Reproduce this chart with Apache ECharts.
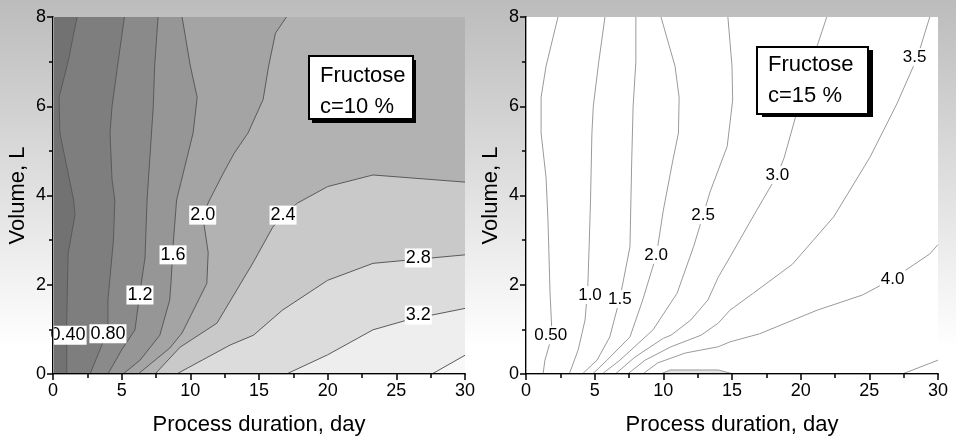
<!DOCTYPE html>
<html>
<head>
<meta charset="utf-8">
<script src="https://cdn.jsdelivr.net/npm/echarts@6/dist/echarts.min.js"></script>
<style>html,body{margin:0;padding:0;}#main{width:956px;height:446px;}</style>
</head>
<body>
<div id="main"></div>
<script>
// contour lines, points are [day, volume L]
// fructose c = 10 %  (filled contours)
var lines10 = {
  '0.40': [[1.75,8],[1.1,7.0],[0.44,6.2],[0.5,5.4],[1.5,3.9],[1.6,3.56],[1.1,2.7],[1.0,1.2],[1.0,0]],
  '0.80': [[5.2,8],[4.7,6.9],[4.3,6.0],[4.15,5.4],[4.3,4.35],[4.5,3.9],[4.4,3.0],[4.0,1.66],[4.0,0.98],[3.2,0.38],[2.7,0]],
  '1.2':  [[7.65,8],[7.4,6.9],[7.3,6.0],[6.85,3.9],[6.7,2.6],[6.3,1.77],[5.97,0.99],[5.0,0.54],[4.0,0]],
  '1.6':  [[9.4,8],[10.0,6.9],[10.5,6.2],[10.2,5.4],[9.0,3.9],[8.75,2.9],[8.6,2.08],[8.5,1.66],[7.78,0.87],[6.34,0.31],[5.1,0]],
  '2.0':  [[17.0,8],[16.2,7.64],[15.7,6.9],[15.3,6.15],[14.2,5.4],[13.2,4.95],[12.4,4.5],[11.4,3.9],[10.9,3.56],[11.3,2.72],[11.2,2.03],[9.4,0.92],[8.5,0.58],[6.2,0]],
  '2.4':  [[30,4.3],[23.3,4.46],[20.0,4.2],[17.8,3.83],[16.75,3.56],[16.0,3.29],[14.56,2.49],[11.94,1.14],[9.25,0.6],[7.43,0]],
  '2.8':  [[30,2.67],[23.3,2.48],[20.0,2.1],[16.7,1.43],[14.6,0.87],[12.9,0.65],[9.0,0]],
  '3.2':  [[30,1.47],[25.8,1.21],[23.3,0.99],[20.0,0.43],[17.0,0]],
  '3.6':  [[30,0.42],[27.6,0]]
};
var labels10 = [[1.1,0.87,'0.40'],[4.0,0.9,'0.80'],[6.33,1.77,'1.2'],[8.74,2.67,'1.6'],
  [10.9,3.56,'2.0'],[16.75,3.56,'2.4'],[26.6,2.6,'2.8'],[26.6,1.32,'3.2']];

// fructose c = 15 %  (contour lines only)
var lines15 = {
  '0.50': [[2.33,8],[1.46,6.9],[1.1,6.2],[1.1,5.4],[1.46,4.4],[1.6,3.45],[1.75,1.81],[1.9,0.87],[1.38,0.31],[1.24,0]],
  '1.0':  [[5.75,8],[5.3,7.0],[4.9,6.0],[4.8,5.4],[4.7,3.9],[4.6,2.9],[4.5,1.95],[4.3,1.21],[3.8,0.54],[3.15,0]],
  '1.5':  [[8.0,8],[8.0,7.0],[7.8,6.0],[7.7,4.8],[7.57,2.85],[6.84,1.7],[6.1,0.83],[5.17,0.31],[4.1,0]],
  '2.0':  [[9.83,8],[10.85,6.9],[11.15,6.2],[11.1,5.4],[10.7,4.8],[10.0,3.67],[9.5,2.67],[8.5,1.66],[7.57,0.83],[5.9,0.31],[4.85,0]],
  '2.5':  [[14.7,8],[15.0,6.9],[15.05,6.14],[14.65,5.1],[13.4,4.08],[12.9,3.56],[12.2,2.85],[11.0,1.81],[9.25,0.99],[6.84,0.31],[5.55,0]],
  '3.0':  [[21.9,8],[21.2,7.35],[19.7,5.84],[18.8,4.85],[18.3,4.46],[16.8,3.67],[14.85,2.62],[14.0,2.17],[13.25,1.66],[12.0,1.21],[10.56,0.87],[10.0,0.8],[7.94,0.38],[6.5,0]],
  '3.5':  [[29.4,8],[28.5,7.1],[27.0,6.05],[25.05,4.86],[22.4,3.52],[19.4,2.46],[16.5,1.8],[14.85,1.43],[14.0,1.14],[12.75,0.87],[10.56,0.61],[8.67,0.31],[7.4,0]],
  '4.0':  [[30,2.9],[29.4,2.69],[26.7,2.13],[24.5,1.77],[21.2,1.43],[17.0,0.9],[14.85,0.72],[14.0,0.61],[11.6,0.47],[9.6,0.25],[8.5,0]],
  '4.5':  [[27.4,0],[30,0.31]]
};
var lens15 = [[9.8,0],[10.5,0.09],[14.0,0.09],[15.1,0]];
var labels15 = [[1.8,0.87,'0.50'],[4.66,1.77,'1.0'],[6.84,1.68,'1.5'],[9.47,2.67,'2.0'],
  [12.9,3.56,'2.5'],[18.3,4.46,'3.0'],[28.3,7.1,'3.5'],[26.7,2.13,'4.0']];

var xMin = 0, xMax = 30, xStep = 5;
var yMin = 0, yMax = 8, yStep = 2;

var FONT = 'Liberation Sans, Arial, sans-serif';
// grey of each band above a level, darkest (below 0.40) is the plot background
var bandColors = ['#7e7e7e','#8a8a8a','#969696','#a4a4a4','#b2b2b2','#c9c9c9','#dcdcdc','#eeeeee','#f8f8f8'];

var chart = echarts.init(document.getElementById('main'));

function polySeries(ax, pts, fill, stroke) {
  return {
    type: 'custom', xAxisIndex: ax, yAxisIndex: ax, silent: true, z: 1,
    data: [[0, 0]],
    renderItem: function (params, api) {
      return {
        type: 'polygon',
        shape: { points: pts.map(function (p) { return api.coord(p); }) },
        style: { fill: fill, stroke: stroke || null, lineWidth: 1 }
      };
    }
  };
}
function lineSeries(ax, pts, color) {
  return {
    type: 'line', xAxisIndex: ax, yAxisIndex: ax, data: pts, silent: true, z: 2,
    showSymbol: false, animation: false,
    lineStyle: { color: color, width: 1 }
  };
}
function labelSeries(ax, list, size) {
  return {
    type: 'scatter', xAxisIndex: ax, yAxisIndex: ax, silent: true, z: 3,
    symbolSize: 1, itemStyle: { color: 'rgba(0,0,0,0)', opacity: 1 },
    data: list.map(function (l) { return { value: [l[0], l[1]], name: l[2] }; }),
    label: {
      show: true, position: 'inside', formatter: '{b}', color: '#000', opacity: 1,
      fontSize: size, fontFamily: FONT, backgroundColor: '#ffffff', padding: [1, 1, 0, 1]
    }
  };
}

function xAxes(grid) {
  return [{
    gridIndex: grid, type: 'value', min: xMin, max: xMax, interval: xStep, z: 5,
    name: 'Process duration, day', nameLocation: 'middle', nameGap: 40,
    nameTextStyle: { color: '#000', fontSize: 22, fontFamily: FONT },
    axisLine: { lineStyle: { color: '#000', width: 2 } },
    axisTick: { length: 6, lineStyle: { color: '#000', width: 1.5 } },
    minorTick: { show: true, splitNumber: 2, length: 4, lineStyle: { color: '#000', width: 1.5 } },
    axisLabel: { color: '#000', fontSize: 18, fontFamily: FONT, margin: 8 },
    splitLine: { show: false }
  }, {
    gridIndex: grid, type: 'value', position: 'top', min: xMin, max: xMax, z: 5,
    axisLine: { lineStyle: { color: '#a0a0a0', width: 1 } },
    axisTick: { show: false }, axisLabel: { show: false }, splitLine: { show: false }
  }];
}
function yAxes(grid) {
  return [{
    gridIndex: grid, type: 'value', min: yMin, max: yMax, interval: yStep, z: 5,
    name: 'Volume, L', nameLocation: 'middle', nameGap: 24,
    nameTextStyle: { color: '#000', fontSize: 22, fontFamily: FONT },
    axisLine: { lineStyle: { color: '#000', width: 2 } },
    axisTick: { length: 6, lineStyle: { color: '#000', width: 1.5 } },
    minorTick: { show: true, splitNumber: 2, length: 4, lineStyle: { color: '#000', width: 1.5 } },
    axisLabel: { color: '#000', fontSize: 18, fontFamily: FONT, margin: 7 },
    splitLine: { show: false }
  }, {
    gridIndex: grid, type: 'value', position: 'right', min: yMin, max: yMax, z: 5,
    axisLine: { lineStyle: { color: '#a0a0a0', width: 1 } },
    axisTick: { show: false }, axisLabel: { show: false }, splitLine: { show: false }
  }];
}

var series = [];
// left: painter's order, each level fills its high side (toward bottom right)
Object.keys(lines10).forEach(function (k, i) {
  var pts = lines10[k].slice();
  if (pts[0][1] === yMax) pts.push([xMax, yMin], [xMax, yMax]);
  else pts.push([xMax, yMin]);
  series.push(polySeries(0, pts, bandColors[i]));
});
Object.keys(lines10).forEach(function (k) { series.push(lineSeries(0, lines10[k], '#5a5a5a')); });
series.push(labelSeries(0, labels10, 18));
// right
series.push(polySeries(2, lens15, '#e4e4e4', '#9a9a9a'));
Object.keys(lines15).forEach(function (k) { series.push(lineSeries(2, lines15[k], '#9a9a9a')); });
series.push(labelSeries(2, labels15, 17));

function legendBox(id, x, y, w, h, dx, dy, ty, lines) {
  return [
    { type: 'rect', id: id + 's', z: 100, left: x + dx, top: y + dy, shape: { width: w, height: h }, style: { fill: '#000' } },
    { type: 'rect', id: id + 'b', z: 101, left: x, top: y, shape: { width: w, height: h }, style: { fill: '#fff', stroke: '#000', lineWidth: 2 } },
    { type: 'text', id: id + 't', z: 102, left: x + 12, top: y + ty, style: { text: lines, fill: '#000', font: '22px ' + FONT, lineHeight: 31 } }
  ];
}

chart.setOption({
  animation: false,
  backgroundColor: {
    type: 'linear', x: 0, y: 0, x2: 0, y2: 1,
    colorStops: [{ offset: 0, color: '#bcbcbc' }, { offset: 0.04, color: '#bfbfbf' }, { offset: 0.78, color: '#ffffff' }, { offset: 1, color: '#ffffff' }]
  },
  grid: [
    { left: 53, right: 491, top: 17, bottom: 72, show: true, backgroundColor: '#727272', borderWidth: 0 },
    { left: 526, right: 18, top: 17, bottom: 72, show: true, backgroundColor: '#ffffff', borderWidth: 0 }
  ],
  xAxis: xAxes(0).concat(xAxes(1)),
  yAxis: yAxes(0).concat(yAxes(1)),
  series: series,
  graphic: legendBox('b10', 308, 55, 104, 63, 4, 5, 5, 'Fructose\nc=10 %')
    .concat(legendBox('b15', 756, 46, 111, 67, 6, 4, 3, 'Fructose\nc=15 %'))
});
</script>
</body>
</html>
